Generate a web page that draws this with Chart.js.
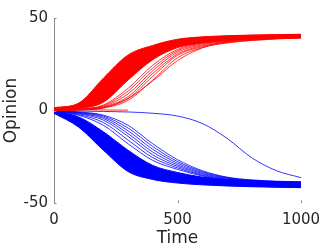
<!DOCTYPE html>
<html>
<head>
<meta charset="utf-8">
<script src="https://cdn.jsdelivr.net/npm/chart.js@4"></script>
<style>
html,body{margin:0;padding:0;background:#fff;}
#wrap{width:332px;height:249px;}
</style>
</head>
<body>
<div id="wrap"><canvas id="c" width="332" height="249"></canvas></div>
<script>
// Sample times (x values)
const timeSteps = [0, 100, 200, 300, 400, 500, 600, 700, 800, 900, 1000];
const xTicks = [0, 500, 1000];
const yTicks = [-50, 0, 50];

// Red (positive) main bundle: top edge first, bottom edge last
const redBundle = [
  [1.5, 4.0, 17.5, 30.0, 35.2, 38.5, 39.8, 40.4, 40.8, 41.0, 41.2],
  [1.3, 3.5, 15.8, 28.5, 34.5, 38.0, 39.5, 40.2, 40.6, 40.9, 41.0],
  [1.1, 3.0, 13.5, 26.5, 33.5, 37.4, 39.1, 39.9, 40.4, 40.7, 40.8],
  [0.9, 2.6, 11.5, 24.5, 32.5, 36.8, 38.7, 39.6, 40.1, 40.4, 40.6],
  [0.7, 2.2, 9.5, 22.5, 31.3, 36.0, 38.2, 39.2, 39.8, 40.2, 40.4],
  [0.5, 1.8, 7.8, 20.5, 30.0, 35.3, 37.7, 38.8, 39.5, 39.9, 40.1],
  [0.4, 1.4, 6.0, 18.5, 28.8, 34.6, 37.1, 38.3, 39.0, 39.5, 39.8],
  [0.2, 1.0, 4.5, 16.5, 27.5, 34.0, 36.5, 37.8, 38.6, 39.2, 39.5]
];
// Red lines lagging behind the bundle
const redStragglers = [
  [0.3, 0.8, 3.0, 12.0, 24.5, 33.0, 36.5, 38.0, 38.8, 39.3, 39.6],
  [0.2, 0.7, 2.6, 10.5, 23.0, 32.3, 36.0, 37.7, 38.6, 39.2, 39.5],
  [0.2, 0.6, 2.2, 9.0, 21.5, 31.5, 35.5, 37.4, 38.4, 39.0, 39.4],
  [0.1, 0.5, 1.9, 7.5, 20.0, 30.5, 35.0, 37.0, 38.2, 38.9, 39.3],
  [0.1, 0.4, 1.6, 6.5, 18.5, 29.8, 34.5, 36.8, 38.0, 38.8, 39.2],
  [0.1, 0.3, 1.3, 5.5, 16.5, 28.5, 34.0, 36.5, 37.8, 38.7, 39.2],
  [0.1, 0.3, 1.5, 6.5, 16.0, 27.0, 33.8, 37.3, 38.8, 39.4, 39.7]
];
const redFlat = [0.4, 0.4, 0.3, 0.2, null, null, null, null, null, null, null];

// Blue (negative) main bundle: top edge first, bottom edge last
const blueBundle = [
  [-0.2, -3.5, -11.5, -21.5, -29.7, -33.5, -36.0, -37.3, -38.0, -38.4, -38.6],
  [-0.4, -4.3, -13.0, -23.2, -30.8, -34.4, -36.6, -37.8, -38.5, -38.9, -39.1],
  [-0.6, -5.0, -14.5, -24.8, -31.9, -35.2, -37.2, -38.3, -39.0, -39.4, -39.6],
  [-0.8, -5.8, -16.0, -26.5, -33.0, -36.1, -37.8, -38.8, -39.5, -39.9, -40.1],
  [-1.0, -6.6, -17.5, -28.1, -34.1, -37.0, -38.4, -39.3, -40.0, -40.4, -40.6],
  [-1.2, -7.4, -19.0, -29.8, -35.2, -37.8, -39.0, -39.8, -40.4, -40.9, -41.1],
  [-1.3, -8.2, -20.3, -31.4, -36.3, -38.5, -39.6, -40.3, -40.8, -41.2, -41.4],
  [-1.5, -9.0, -21.5, -33.0, -37.3, -39.2, -40.2, -40.8, -41.2, -41.5, -41.7]
];
const blueStragglers = [
  [-0.1, -0.8, -2.5, -8.0, -18.0, -26.6, -32.5, -36.0, -37.5, -38.2, -38.6],
  [-0.1, -1.0, -3.0, -9.5, -19.5, -27.6, -33.0, -36.2, -37.7, -38.4, -38.8],
  [-0.2, -1.2, -3.6, -11.0, -21.0, -28.5, -33.5, -36.5, -37.9, -38.6, -39.0],
  [-0.2, -1.5, -4.3, -12.5, -22.5, -29.4, -34.0, -36.8, -38.1, -38.8, -39.2],
  [-0.3, -1.8, -5.2, -14.0, -24.0, -30.2, -34.5, -37.1, -38.3, -39.0, -39.4],
  [-0.3, -2.2, -6.5, -16.0, -25.5, -31.0, -35.0, -37.4, -38.5, -39.1, -39.5],
  [-0.4, -2.6, -8.0, -18.0, -27.0, -31.8, -35.4, -37.6, -38.7, -39.3, -39.6]
];
const blueSlow = [-0.2, -0.3, -0.5, -0.8, -1.5, -3.0, -7.0, -15.0, -25.5, -32.5, -36.3];

const RED = 'rgb(255,0,0)';
const BLUE = 'rgb(0,0,255)';

function toPts(vals) {
  return vals.map((v, i) => ({x: timeSteps[i], y: v}));
}
function lineDs(vals, color, extra) {
  return Object.assign({
    data: toPts(vals),
    borderColor: color,
    backgroundColor: color,
    borderWidth: 1,
    pointRadius: 0,
    fill: false,
    cubicInterpolationMode: 'monotone',
    spanGaps: false
  }, extra || {});
}

const datasets = [];
const redStart = datasets.length;
redBundle.forEach(v => datasets.push(lineDs(v, RED)));
datasets[redStart].fill = {target: redStart + redBundle.length - 1};
redStragglers.forEach(v => datasets.push(lineDs(v, RED, {borderWidth: 0.8})));
datasets.push(lineDs(redFlat, RED, {borderWidth: 0.8}));
const blueStart = datasets.length;
blueBundle.forEach(v => datasets.push(lineDs(v, BLUE)));
datasets[blueStart].fill = {target: blueStart + blueBundle.length - 1};
blueStragglers.forEach(v => datasets.push(lineDs(v, BLUE, {borderWidth: 0.8})));
datasets.push(lineDs(blueSlow, BLUE, {borderWidth: 0.8}));

const AXIS_GRAY = '#8a8a8a';
const TEXT = '#262626';
const TICK_FONT = {family: 'DejaVu Sans', size: 15};
const LABEL_FONT = {family: 'DejaVu Sans', size: 17};

const tickMarks = {
  id: 'tickMarks',
  afterDraw(chart) {
    const ctx = chart.ctx;
    const xs = chart.scales.x, ys = chart.scales.y;
    const a = chart.chartArea;
    ctx.save();
    ctx.strokeStyle = AXIS_GRAY;
    ctx.lineWidth = 1;
    ctx.beginPath();
    xTicks.forEach(t => {
      const px = Math.round(xs.getPixelForValue(t)) + 0.5;
      ctx.moveTo(px, a.bottom);
      ctx.lineTo(px, a.bottom - 2.5);
    });
    yTicks.forEach(t => {
      const py = Math.round(ys.getPixelForValue(t)) + 0.5;
      ctx.moveTo(a.left, py);
      ctx.lineTo(a.left + 2.5, py);
    });
    ctx.stroke();
    ctx.restore();
  }
};

new Chart(document.getElementById('c'), {
  type: 'line',
  data: {datasets},
  options: {
    responsive: false,
    animation: false,
    devicePixelRatio: 1,
    layout: {padding: {top: 18, right: 31, left: 0, bottom: 0}},
    plugins: {legend: {display: false}, tooltip: {enabled: false}},
    scales: {
      x: {
        type: 'linear',
        min: 0, max: 1000,
        afterBuildTicks(scale) { scale.ticks = xTicks.map(v => ({value: v})); },
        afterFit(scale) { scale.height = 46; },
        grid: {display: false, drawTicks: false},
        border: {display: false},
        ticks: {color: TEXT, font: TICK_FONT, padding: 8, maxRotation: 0, autoSkip: false,
                callback: v => String(v)},
        title: {display: true, text: 'Time', color: TEXT, font: LABEL_FONT, padding: {top: 0, bottom: 0}}
      },
      y: {
        type: 'linear',
        min: -50, max: 50,
        afterBuildTicks(scale) { scale.ticks = yTicks.map(v => ({value: v})); },
        afterFit(scale) { scale.width = 54; },
        grid: {display: false, drawTicks: false},
        border: {display: true, color: AXIS_GRAY, width: 1},
        ticks: {color: TEXT, font: TICK_FONT, padding: 6, autoSkip: false,
                callback: v => String(v)},
        title: {display: true, text: 'Opinion', color: TEXT, font: LABEL_FONT, padding: {top: 1, bottom: 0}}
      }
    }
  },
  plugins: [tickMarks]
});
</script>
</body>
</html>
